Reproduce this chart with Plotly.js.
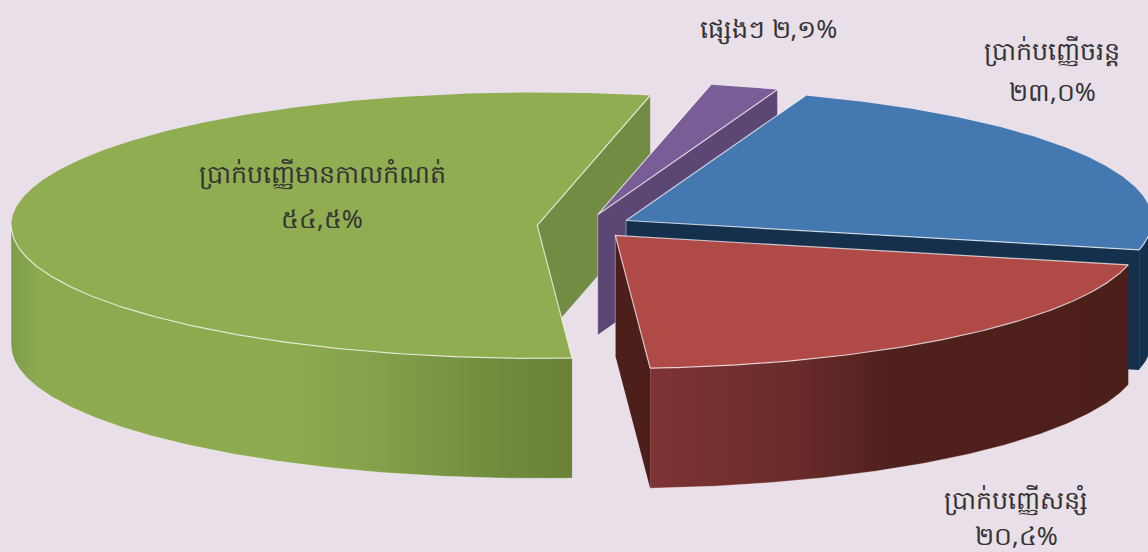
<!DOCTYPE html>
<html>
<head>
<meta charset="utf-8">
<script src="https://cdn.plot.ly/plotly-3.0.1.min.js"></script>
<style>html,body{margin:0;padding:0;background:#e9dfe9;overflow:hidden}#chart{width:1148px;height:552px}</style>
</head>
<body>
<div id="chart"></div>
<script>
// Data, in the pie's clockwise order from its first slice
const categories = ["ផ្សេងៗ", "ប្រាក់បញ្ញើចរន្ត", "ប្រាក់បញ្ញើសន្សំ", "ប្រាក់បញ្ញើមានកាលកំណត់"];
const values = [2.1, 23.0, 20.4, 54.5];
const valueLabels = ["២,១%", "២៣,០%", "២០,៤%", "៥៤,៥%"];
const topColors = ["#7a5c96", "#4478b0", "#af4a47", "#91ad52"];
const sideColors = ["#5b4674", "#15304d", "#4d1f1b", "#738c44"];
const rimScales = [
  null,
  [[0,"#15304d"],[1,"#15304d"]],
  [[0,"#7d3333"],[0.3,"#6a2c2b"],[0.5,"#4f201c"],[1,"#4d1f1b"]],
  [[0,"#7e9c48"],[0.05,"#8eaa50"],[0.5,"#8fab50"],[0.66,"#84a04a"],[0.88,"#708a3d"],[1,"#6a8238"]]
];
const labelPositions = [
  {lines:[0], x:768, y:28},
  {lines:[1], x:1052, y:50, vy:91},
  {lines:[2], x:1016, y:499, vy:535},
  {lines:[3], x:322, y:173, vy:218}
];

// Pie geometry (screen units of the axes)
const cx = 584.5, cy = 226.3, rx = 526, ry = 133, depth = 120;
const explodeX = 47.4, explodeY = 12.1, firstAngle = 12.4;
const rad = d => d * Math.PI / 180;

let a = firstAngle;
const slices = values.map((v, i) => {
  const s = a, e = a + v * 3.6; a = e;
  const m = rad((s + e) / 2);
  return {i, s, e, ax: cx + explodeX * Math.sin(m), ay: cy - explodeY * Math.cos(m)};
});
const rimPt = (sl, t) => [sl.ax + rx * Math.sin(rad(t)), sl.ay - ry * Math.cos(rad(t))];
function arc(sl, t0, t1) {
  const pts = [], n = Math.max(2, Math.ceil(Math.abs(t1 - t0) * 2));
  for (let k = 0; k <= n; k++) pts.push(rimPt(sl, t0 + (t1 - t0) * k / n));
  return pts;
}
function poly(pts, color, extra) {
  const xs = pts.map(p => p[0]), ys = pts.map(p => p[1]);
  xs.push(xs[0]); ys.push(ys[0]);
  return Object.assign({type:"scatter", mode:"lines", x:xs, y:ys, fill:"toself", fillcolor:color,
    line:{width:0, color:color}, hoverinfo:"skip", showlegend:false}, extra || {});
}
function stroke(pts, color, w) {
  return {type:"scatter", mode:"lines", x:pts.map(p=>p[0]), y:pts.map(p=>p[1]),
    line:{width:w, color:color}, hoverinfo:"skip", showlegend:false};
}
const down = p => [p[0], p[1] + depth];
function radialWall(sl, t) {
  const r = rimPt(sl, t), o = [sl.ax, sl.ay];
  return [poly([o, r, down(r), down(o)], sideColors[sl.i]),
          stroke([down(o), o], "rgba(255,255,255,0.4)", 1)];
}
function endWall(sl) {
  return Math.cos(rad(sl.e + 90)) < 0 ? radialWall(sl, sl.e) : [];
}
function startWall(sl) {
  return Math.cos(rad(sl.s - 90)) < 0 ? radialWall(sl, sl.s) : [];
}
function rimWall(sl) {
  const t0 = Math.max(sl.s, 90), t1 = Math.min(sl.e, 270);
  if (t1 <= t0 || !rimScales[sl.i]) return [];
  const top = arc(sl, t0, t1), bottom = top.map(down).reverse();
  const xs = top.map(p => p[0]);
  const tr = poly(top.concat(bottom), sideColors[sl.i], {
    fillgradient:{type:"horizontal", colorscale:rimScales[sl.i],
                  start:Math.min(...xs), stop:Math.max(...xs)}
  });
  delete tr.fillcolor;
  return [tr, stroke(bottom, "rgba(255,255,255,0.3)", 1)];
}
function topFace(sl) {
  const rim = arc(sl, sl.s, sl.e), o = [sl.ax, sl.ay];
  const t0 = Math.max(sl.s, 90), t1 = Math.min(sl.e, 270);
  const out = [poly([o].concat(rim), topColors[sl.i])];
  out.push(stroke([rim[0], o, rim[rim.length - 1]], "rgba(255,255,255,0.7)", 1.2));
  if (t1 > t0) out.push(stroke(arc(sl, t0, t1), "rgba(255,255,255,0.7)", 1.2));
  return out;
}

const [purple, blue, red, green] = slices;
const traces = [].concat(
  endWall(green),
  startWall(purple), endWall(purple), rimWall(purple), topFace(purple),
  startWall(blue), endWall(blue), rimWall(blue), topFace(blue),
  startWall(red), endWall(red), rimWall(red), topFace(red),
  rimWall(green), topFace(green)
);

const fontFamily = '"Noto Sans", "DejaVu Sans", sans-serif';
const annotations = [];
function addText(text, x, y) {
  annotations.push({text, x, y, xref:"x", yref:"y", showarrow:false, xanchor:"center", yanchor:"middle",
    font:{family:fontFamily, size:25.3, color:"#333333"}});
}
labelPositions.forEach(p => {
  const i = p.lines[0];
  if (p.vy === undefined) addText(categories[i] + " " + valueLabels[i], p.x, p.y);
  else { addText(categories[i], p.x, p.y); addText(valueLabels[i], p.x, p.vy); }
});

Plotly.newPlot("chart", traces, {
  width:1148, height:552, margin:{l:0,r:0,t:0,b:0},
  paper_bgcolor:"#e9dfe9", plot_bgcolor:"#e9dfe9", showlegend:false,
  xaxis:{range:[0,1148], visible:false, fixedrange:true},
  yaxis:{range:[552,0], visible:false, fixedrange:true},
  annotations
}, {displayModeBar:false, staticPlot:true});
</script>
</body>
</html>
